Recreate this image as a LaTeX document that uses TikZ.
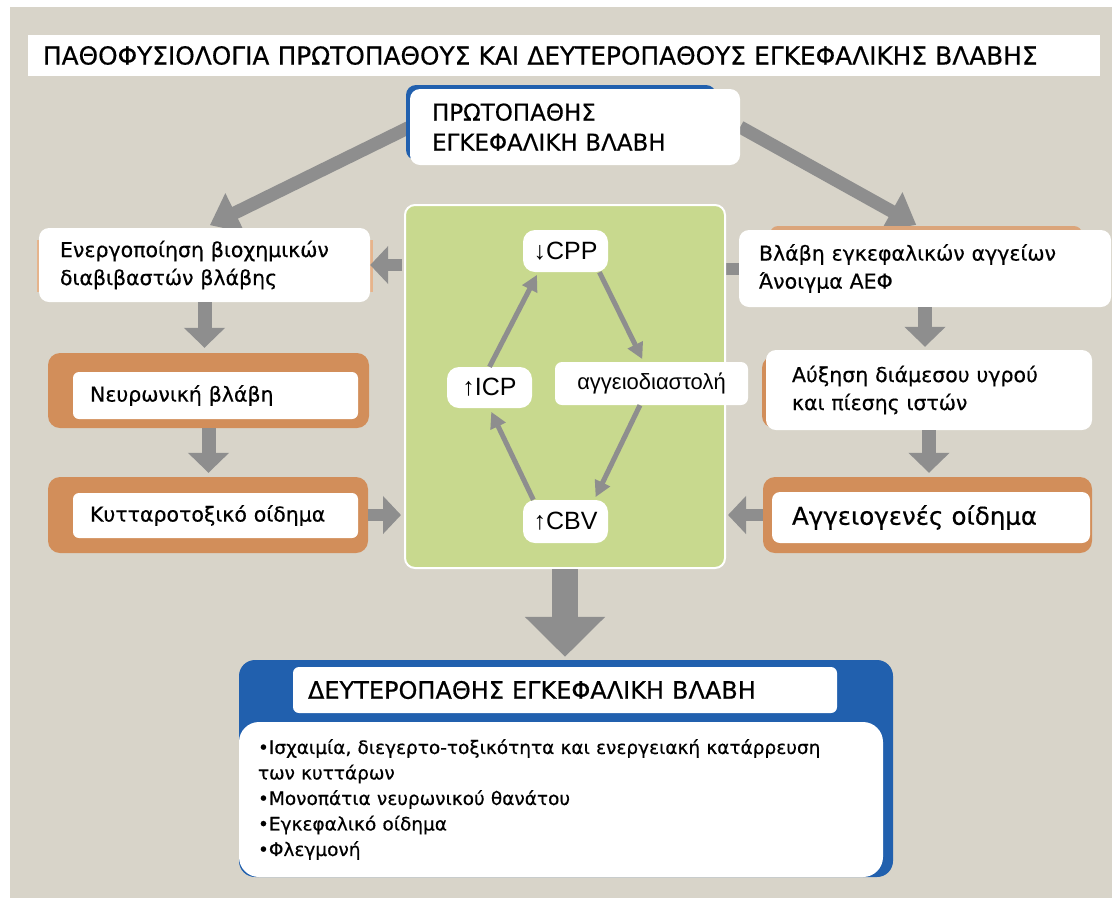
\documentclass[tikz,border=0pt]{standalone}
\usepackage{fontspec}
\setmainfont{DejaVu Sans}[FakeBold=0.5]
\newfontfamily\arialfont{Liberation Sans}
\usetikzlibrary{arrows.meta}
\definecolor{sand}{HTML}{D8D4C9}
\definecolor{rust}{HTML}{D28E5A}
\definecolor{peach}{HTML}{E6B48C}
\definecolor{navy}{HTML}{2160AE}
\definecolor{leaf}{HTML}{C8D98E}
\definecolor{pipe}{HTML}{8E8E8E}
\pgfdeclarelayer{paper}
\pgfdeclarelayer{under}
\pgfsetlayers{paper,under,main}

\begin{document}
\begin{tikzpicture}[x=1pt,y=-1pt,
    card/.style={fill=white,rounded corners=10pt,align=left,inner ysep=0pt,font=\fontsize{20.5}{28}\selectfont},
    band/.style={fill=rust,rounded corners=12pt,inner sep=0pt},
    tag/.style={fill=white,rounded corners=12pt,inner sep=0pt,font=\arialfont\fontsize{25}{26}\selectfont},
    fat/.style={draw=pipe,line width=14pt,-{Triangle[length=20pt,width=40pt]}},
    wide/.style={draw=pipe,line width=13pt,-{Triangle[length=28pt,width=42pt]}},
    side/.style={draw=pipe,line width=12pt,-{Triangle[length=18pt,width=37pt]}},
    loopy/.style={draw=pipe,line width=5pt,-{Triangle[length=16pt,width=16pt]}}]

  \useasboundingbox (0,0) rectangle (1114,898);
  \begin{pgfonlayer}{paper}
    \fill[white] (0,0) rectangle (1114,898);
    \fill[sand] (10,7) rectangle (1112,898);
  \end{pgfonlayer}

  % title
  \node[card,rounded corners=0pt,text width=1042pt,inner xsep=15pt,minimum height=41pt,
    font=\fontsize{24.8}{26}\selectfont] (title) at (564,55.5)
    {ΠΑΘΟΦΥΣΙΟΛΟΓΙΑ ΠΡΩΤΟΠΑΘΟΥΣ ΚΑΙ ΔΕΥΤΕΡΟΠΑΘΟΥΣ ΕΓΚΕΦΑΛΙΚΗΣ ΒΛΑΒΗΣ};

  % primary injury
  \node[band,fill=navy,rounded corners=10pt,minimum width=310pt,minimum height=75pt] (pbk) at (561,122.5) {};
  \node[card,text width=286pt,inner xsep=22pt,minimum height=76pt,
    font=\fontsize{23}{30}\selectfont] (prim) at (575,127)
    {ΠΡΩΤΟΠΑΘΗΣ\\ΕΓΚΕΦΑΛΙΚΗ ΒΛΑΒΗ};

  % left column
  \node[fill=peach,inner sep=0pt,minimum width=336pt,minimum height=52pt] (e1bk) at (204.5,266) {};
  \node[card,text width=289pt,inner xsep=21pt,minimum height=74pt] (e1) at (204.5,265)
    {Ενεργοποίηση βιοχημικών\\διαβιβαστών βλάβης};
  \node[band,minimum width=321pt,minimum height=75pt] (n2) at (208.5,390.5) {};
  \node[card,rounded corners=6pt,text width=251pt,inner xsep=17pt,minimum height=47pt] (n2in) at (215.5,395.5)
    {Νευρωνική βλάβη};
  \node[band,minimum width=320pt,minimum height=76pt] (k3) at (208,515) {};
  \node[card,rounded corners=6pt,text width=251pt,inner xsep=17pt,minimum height=45pt] (k3in) at (215.5,515.5)
    {Κυτταροτοξικό οίδημα};

  % right column
  \node[fill=rust!80,inner sep=0pt,rounded corners=8pt,minimum width=312pt,minimum height=36pt] (r1bk) at (926,244) {};
  \node[card,text width=332pt,inner xsep=20pt,minimum height=77pt] (r1) at (925,268.5)
    {Βλάβη εγκεφαλικών αγγείων\\Άνοιγμα ΑΕΦ};
  \node[band,minimum width=68pt,minimum height=72pt] (r2bk) at (796,392) {};
  \node[card,text width=274pt,inner xsep=26pt,minimum height=80pt] (r2) at (929,390)
    {Αύξηση διάμεσου υγρού\\και πίεσης ιστών};
  \node[band,minimum width=329pt,minimum height=76pt] (r3) at (927.5,515) {};
  \node[card,rounded corners=8pt,text width=278pt,inner xsep=20pt,minimum height=51pt,
    font=\fontsize{24.5}{28}\selectfont] (r3in) at (931,517.5)
    {Αγγειογενές οίδημα};

  % vicious circle
  \node[fill=leaf,draw=white,line width=2pt,rounded corners=10pt,minimum width=320pt,minimum height=363pt] (loop) at (565,386.5) {};
  \node[tag,minimum width=85pt,minimum height=42pt] (cpp) at (565.5,251) {↓CPP};
  \node[tag,minimum width=85pt,minimum height=41pt] (icp) at (489.5,387.5) {↑ICP};
  \node[tag,rounded corners=7pt,minimum width=193pt,minimum height=43pt,
    font=\arialfont\fontsize{22}{24}\selectfont] (agg) at (651.5,383.5) {αγγειοδιαστολή};
  \node[tag,minimum width=85pt,minimum height=43pt] (cbv) at (565.5,521.5) {↑CBV};

  % secondary injury
  \node[band,fill=navy,rounded corners=16pt,minimum width=654pt,minimum height=217pt] (bot) at (566,768.5) {};
  \node[card,rounded corners=6pt,text width=514pt,inner xsep=15pt,minimum height=46pt,
    font=\fontsize{24}{26}\selectfont] (bhead) at (565,690)
    {ΔΕΥΤΕΡΟΠΑΘΗΣ ΕΓΚΕΦΑΛΙΚΗ ΒΛΑΒΗ};
  \node[card,rounded corners=20pt,text width=606pt,inner xsep=19pt,minimum height=155pt,
    font=\fontsize{18.5}{25.5}\selectfont] (bbody) at (561,799.5)
    {•Ισχαιμία, διεγερτο-τοξικότητα και ενεργειακή κατάρρευση\\
     των κυττάρων\\
     •Μονοπάτια νευρωνικού θανάτου\\
     •Εγκεφαλικό οίδημα\\
     •Φλεγμονή};

  % arrows
  \begin{pgfonlayer}{under}
    \draw[wide,shorten >=6pt] (prim.west) -- (e1.north);
    \draw[wide,shorten >=10pt] (prim.east) -- (r1.north);
    \draw[pipe,line width=12pt] (loop.east |- r1.west) -- (r1.west);
  \end{pgfonlayer}
  \draw[fat,shorten >=5pt] (e1.south) -- (e1.south |- n2.north);
  \draw[fat,shorten >=4pt] (n2.south) -- (n2.south |- k3.north);
  \draw[fat,shorten >=3pt] (r1.south) -- (r1.south |- r2.north);
  \draw[fat,shorten >=4pt] (r2.south) -- (r2.south |- r3.north);
  \draw[side,shorten <=2pt] (loop.west |- e1.east) -- (e1.east);
  \draw[side,shorten >=3pt] (k3.east) -- (loop.west |- k3.east);
  \draw[side,shorten >=2pt] (r3.west) -- (loop.east |- r3.west);
  \draw[loopy,shorten >=3pt] (icp.north) -- (cpp.218);
  \draw[loopy,shorten >=3pt] (cpp.328) -- (agg.110);
  \draw[loopy,shorten >=3pt] (agg.242) -- (cbv.37);
  \draw[loopy,shorten >=4pt] (cbv.146) -- (icp.south);
  \draw[draw=pipe,line width=26pt,-{Triangle[length=40pt,width=78pt]},shorten >=3pt]
    (loop.south) -- (loop.south |- bot.north);
\end{tikzpicture}
\end{document}
